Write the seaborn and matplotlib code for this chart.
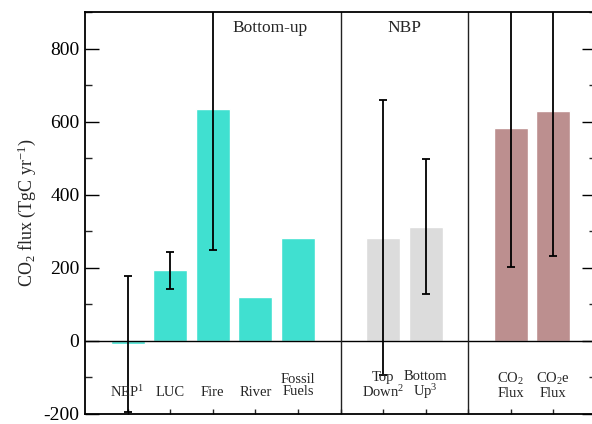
import numpy as np
import pandas as pd
import matplotlib
matplotlib.use("Agg")
import matplotlib.pyplot as plt
import seaborn as sns

# Carbon budget components (TgC per year)
labels = ["NEP$^1$", "LUC", "Fire", "River", "Fossil\nFuels",
          "Top\nDown$^2$", "Bottom\nUp$^3$",
          "CO$_2$\nFlux", "CO$_2$e\nFlux"]
flux = [-9, 193, 634, 119, 282, 282, 313, 582, 629]
uncertainty = [186, 50, 385, np.nan, np.nan, 376, 186, 379, 398]
groups = ["Bottom-up"] * 5 + ["NBP"] * 2 + ["Total"] * 2
group_titles = ["Bottom-up", "NBP"]
palette = {"Bottom-up": "#40E0D0", "NBP": "#DCDCDC", "Total": "#BC8F8F"}

# x positions: consecutive within a group, one empty slot between groups
pos = []
x = 0
for i, g in enumerate(groups):
    x += 1 if (i == 0 or groups[i - 1] == g) else 2
    pos.append(x)

df = pd.DataFrame({"pos": pos, "flux": flux, "err": uncertainty,
                   "group": groups, "label": labels})

sns.set_theme(style="ticks")
plt.rcParams["font.family"] = ["Liberation Serif", "DejaVu Serif"]
plt.rcParams["mathtext.fontset"] = "custom"
plt.rcParams["mathtext.rm"] = "Liberation Serif"
plt.rcParams["mathtext.it"] = "Liberation Serif:italic"
plt.rcParams["axes.unicode_minus"] = False

fig = plt.figure(figsize=(5.92, 4.24), dpi=100)
ax = fig.add_axes([85 / 592, 1 - 414 / 424, (596 - 85) / 592, (414 - 12) / 424])

sns.barplot(data=df, x="pos", y="flux", hue="group", palette=palette,
            native_scale=True, dodge=False, legend=False, errorbar=None,
            width=0.8, saturation=1, ax=ax, zorder=1)

ax.errorbar(df["pos"], df["flux"], yerr=df["err"], fmt="none",
            ecolor="black", elinewidth=1.3, capsize=2.6, capthick=1.3,
            zorder=3)

ax.axhline(0, color="black", lw=1.0, zorder=2)

# group dividers
for i in range(1, len(groups)):
    if groups[i] != groups[i - 1]:
        ax.axvline((pos[i] + pos[i - 1]) / 2, color="#222222", lw=1.0, zorder=2)

ax.set_xlim(0, pos[-1] + 1)
ax.set_ylim(-200, 900)

# category labels inside the plot
for p, lab in zip(pos, labels):
    nlines = lab.count("\n") + 1
    yc = -140 if nlines == 1 else -122
    ax.text(p, yc, lab, ha="center", va="center", fontsize=10.5,
            linespacing=0.95)

# group titles
title_x = {"Bottom-up": 4.35, "NBP": 7.5}
for t in group_titles:
    ax.text(title_x[t], 855, t, ha="center", va="center", fontsize=12.5)

ax.set_yticks(np.arange(-200, 801, 200))
ax.set_yticks(np.arange(-200, 901, 100), minor=True)
ax.set_xticks(range(1, pos[-1] + 1))
ax.set_xticklabels([])
ax.tick_params(axis="y", which="major", direction="in", length=10, width=1,
               labelsize=14, right=True, pad=4, colors="black")
ax.tick_params(axis="y", which="minor", direction="in", length=5, width=1,
               right=True)
ax.tick_params(axis="x", which="major", direction="in", length=3.5, width=1)
ax.set_xlabel("")
ax.set_ylabel("CO$_2$ flux (TgC yr$^{-1}$)", fontsize=13, labelpad=4)

for s in ax.spines.values():
    s.set_linewidth(1.3)
    s.set_color("black")

fig.savefig("out.png", dpi=100)
